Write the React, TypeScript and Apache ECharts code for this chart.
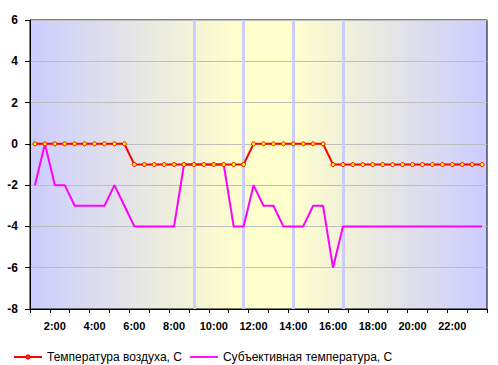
import React, { useEffect, useRef } from "react";
import * as echarts from "echarts";

const categories = [
  "1:00", "1:30", "2:00", "2:30", "3:00", "3:30", "4:00", "4:30", "5:00", "5:30",
  "6:00", "6:30", "7:00", "7:30", "8:00", "8:30", "9:00", "9:30", "10:00", "10:30",
  "11:00", "11:30", "12:00", "12:30", "13:00", "13:30", "14:00", "14:30", "15:00", "15:30",
  "16:00", "16:30", "17:00", "17:30", "18:00", "18:30", "19:00", "19:30", "20:00", "20:30",
  "21:00", "21:30", "22:00", "22:30", "23:00", "23:30",
];

const airTemp = [
  0, 0, 0, 0, 0, 0, 0, 0, 0, 0,
  -1, -1, -1, -1, -1, -1, -1, -1, -1, -1, -1, -1,
  0, 0, 0, 0, 0, 0, 0, 0,
  -1, -1, -1, -1, -1, -1, -1, -1, -1, -1, -1, -1, -1, -1, -1, -1,
];

const feltTemp = [
  -2, 0, -2, -2, -3, -3, -3, -3, -2, -3,
  -4, -4, -4, -4, -4, -1, -1, -1, -1, -1,
  -4, -4, -2, -3, -3, -4, -4, -4, -3, -3,
  -6, -4, -4, -4, -4, -4, -4, -4, -4, -4,
  -4, -4, -4, -4, -4, -4,
];

const stripeTimes = ["9:00", "11:30", "14:00", "16:30"];

const seriesNames = ["Температура воздуха, С", "Субъективная температура, С"];

const FONT = "'Liberation Sans', Arial, sans-serif";

export default function App() {
  const ref = useRef<HTMLDivElement>(null);

  useEffect(() => {
    if (!ref.current) return;
    const chart = echarts.init(ref.current, null, { renderer: "svg" });
    chart.setOption({
      animation: false,
      backgroundColor: "#FFFFFF",
      grid: {
        left: 30,
        right: 11,
        top: 20,
        bottom: 56,
        show: true,
        borderColor: "#000000",
        borderWidth: 1,
        backgroundColor: new echarts.graphic.LinearGradient(0, 0, 1, 0, [
          { offset: 0, color: "#CCCCFF" },
          { offset: 0.46, color: "#FFFFCC" },
          { offset: 0.57, color: "#FFFFCC" },
          { offset: 1, color: "#CCCCFF" },
        ]),
      },
      legend: {
        data: [
          { name: seriesNames[0] },
          { name: seriesNames[1], icon: "path://M0,0 L30,0 L30,2 L0,2 Z" },
        ],
        left: 8,
        top: 346,
        itemWidth: 28,
        itemHeight: 4,
        itemGap: 8,
        textStyle: { fontFamily: FONT, fontSize: 12, color: "#000000" },
      },
      xAxis: {
        type: "category",
        data: categories,
        boundaryGap: true,
        axisLine: { show: true, onZero: false, lineStyle: { color: "#000000", width: 1 } },
        axisTick: {
          show: true,
          length: 4,
          interval: (index: number) => index % 2 === 0,
          lineStyle: { color: "#000000" },
        },
        axisLabel: {
          interval: (index: number) => index % 4 === 2,
          fontFamily: FONT,
          fontSize: 11,
          fontWeight: "bold",
          color: "#000000",
          margin: 11,
        },
        splitLine: { show: false },
      },
      yAxis: {
        type: "value",
        min: -8,
        max: 6,
        interval: 2,
        axisLine: { show: true, lineStyle: { color: "#000000", width: 1 } },
        axisTick: { show: true, length: 5, lineStyle: { color: "#000000" } },
        axisLabel: {
          fontFamily: FONT,
          fontSize: 12,
          fontWeight: "bold",
          color: "#000000",
          margin: 12,
        },
        splitLine: { show: true, lineStyle: { color: "#BEBEBE", width: 1 } },
      },
      series: [
        {
          name: "stripes",
          type: "line",
          data: [],
          z: 1,
          silent: true,
          markLine: {
            z: 1,
            silent: true,
            symbol: ["none", "none"],
            label: { show: false },
            lineStyle: { color: "#CCCCFF", width: 3, type: "solid" },
            data: stripeTimes.map((t) => ({ xAxis: t })),
          },
        },
        {
          name: seriesNames[0],
          type: "line",
          data: airTemp,
          z: 4,
          symbol: "circle",
          symbolSize: 4,
          itemStyle: { color: "#FFFF00", borderColor: "#FF0000", borderWidth: 1 },
          lineStyle: { color: "#FF0000", width: 2 },
        },
        {
          name: seriesNames[1],
          type: "line",
          data: feltTemp,
          z: 3,
          symbol: "none",
          showSymbol: false,
          itemStyle: { color: "#FF00FF" },
          lineStyle: { color: "#FF00FF", width: 2 },
        },
      ],
    });
    return () => chart.dispose();
  }, []);

  return <div ref={ref} style={{ width: 498, height: 365, position: "absolute", left: 0, top: 0 }} />;
}
